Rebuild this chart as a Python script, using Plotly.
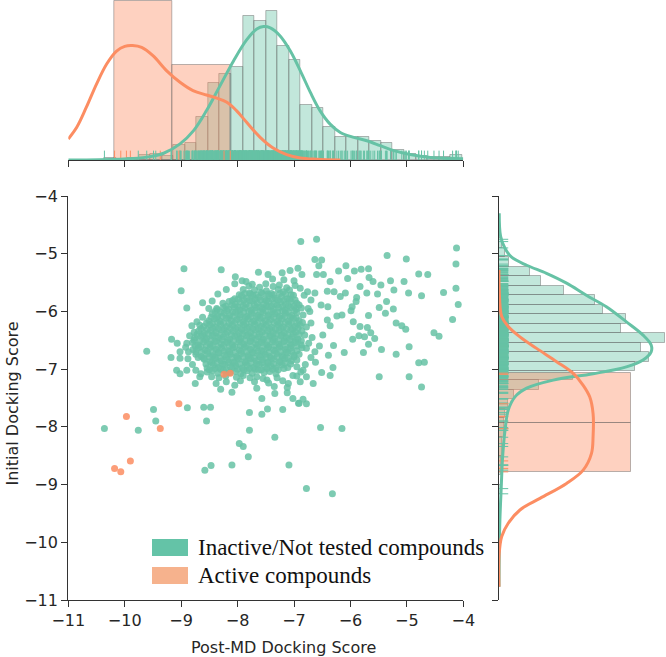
import numpy as np
import plotly.graph_objects as go

# ---------------- data ----------------
inactive_points = [
    # sparse outer points
    (-10.36, -8.03), (-9.76, -8.06), (-9.49, -7.70), (-9.45, -7.90), (-8.89, -7.67), (-8.60, -7.66),
    (-8.48, -7.66), (-8.55, -7.90), (-8.58, -8.75), (-8.47, -8.67), (-8.10, -8.66), (-7.97, -8.29),
    (-7.90, -8.34), (-7.81, -8.52), (-7.79, -8.06), (-7.79, -7.75), (-7.57, -7.78), (-7.47, -7.69),
    (-7.34, -8.18), (-7.20, -7.70), (-7.09, -8.66), (-6.92, -7.59), (-6.78, -7.60), (-6.78, -9.07),
    (-6.53, -8.01), (-6.32, -9.16), (-6.15, -8.03),
    (-9.61, -6.69), (-9.17, -6.48), (-9.18, -6.80), (-9.00, -5.64), (-8.95, -5.26), (-8.90, -5.94),
    (-8.29, -5.28), (-8.04, -5.40), (-9.07, -6.55), (-9.02, -6.70), (-8.87, -6.70), (-9.02, -6.81),
    (-9.08, -7.02), (-9.02, -7.08), (-8.90, -7.02), (-8.75, -7.25), (-8.67, -7.13), (-8.54, -7.05),
    (-8.38, -7.25), (-8.62, -5.85), (-8.51, -5.95), (-8.37, -5.95), (-8.81, -6.25), (-8.77, -6.36),
    (-8.67, -6.24),
    (-6.88, -4.79), (-6.60, -4.75), (-4.12, -4.90), (-4.13, -5.18), (-4.13, -5.60), (-4.09, -5.88),
    (-4.19, -6.14), (-5.35, -5.03), (-5.01, -5.09), (-4.79, -5.35), (-4.63, -5.36), (-4.35, -5.67),
    (-4.74, -5.73), (-4.52, -6.37), (-4.43, -6.43), (-4.79, -6.89), (-4.69, -6.88), (-4.74, -7.31),
    (-4.96, -7.13), (-5.49, -7.13), (-5.19, -6.74), (-4.96, -6.61), (-4.97, -5.68), (-5.23, -5.63),
    (-5.05, -5.48), (-5.29, -5.47), (-5.46, -5.54), (-5.52, -5.70), (-5.36, -5.83), (-5.24, -5.96),
    (-5.38, -6.03), (-5.49, -5.93), (-5.19, -6.20), (-5.09, -6.25), (-5.02, -6.31), (-5.45, -6.66),
    (-5.68, -6.57), (-5.77, -6.71), (-5.57, -6.47), (-5.68, -6.07), (-5.64, -6.37), (-5.70, -6.28),
    (-5.75, -6.44), (-5.83, -6.26), (-5.95, -6.18), (-5.85, -6.42), (-5.96, -6.48), (-5.89, -5.76),
    (-5.90, -5.83), (-5.97, -5.92), (-5.99, -5.99), (-5.83, -5.57), (-5.71, -5.68), (-5.60, -5.48),
    (-5.67, -5.41), (-5.81, -5.27), (-5.93, -5.30), (-5.68, -5.26), (-6.05, -5.43), (-6.08, -5.21),
    (-6.21, -5.30), (-6.09, -5.68), (-6.18, -5.74), (-6.24, -6.08), (-6.15, -6.06), (-6.11, -6.71),
    (-6.30, -6.59), (-6.39, -6.76), (-6.31, -6.97), (-6.36, -7.11), (-6.66, -7.25), (-6.84, -7.52),
    (-6.91, -7.59), (-7.02, -7.51), (-7.12, -7.41), (-7.34, -7.42), (-7.48, -7.19), (-7.57, -7.51),
    (-7.66, -7.33),
    (-7.63, -5.32), (-7.46, -5.36), (-7.21, -5.33), (-7.07, -5.29), (-6.93, -5.25), (-6.86, -5.36),
    (-6.63, -5.10), (-6.51, -5.11), (-6.56, -5.21), (-6.60, -5.36), (-6.48, -5.36), (-6.36, -5.48),
    (-6.29, -5.66), (-6.41, -5.65), (-6.63, -5.68), (-6.76, -5.66), (-6.89, -5.60), (-6.52, -5.89),
    (-6.40, -5.92), (-6.41, -6.15), (-6.36, -6.25), (-6.49, -6.41), (-6.55, -6.60), (-6.63, -6.70),
    (-6.78, -6.64), (-6.70, -6.80), (-6.62, -6.88), (-6.51, -7.06), (-6.84, -7.02), (-6.78, -7.13),
    (-6.95, -6.96), (-7.02, -7.11), (-6.89, -7.22), (-7.10, -7.25), (-7.85, -5.48),
    # ring around the dense core
    (-8.05, -5.52), (-7.92, -5.47), (-7.80, -5.56), (-7.00, -5.47), (-6.98, -5.55), (-7.18, -5.45),
    (-7.38, -5.44), (-8.20, -5.62), (-8.35, -5.70), (-8.45, -5.82), (-8.62, -6.10), (-8.72, -6.18),
    (-8.85, -6.42), (-8.90, -6.55), (-8.92, -6.62), (-8.88, -6.82), (-8.80, -6.92), (-8.74, -7.02),
    (-8.65, -7.08), (-8.20, -7.22), (-8.05, -7.28), (-7.95, -7.20), (-7.70, -7.22), (-7.55, -7.16),
    (-7.45, -7.24), (-7.30, -7.15), (-7.20, -7.20), (-7.35, -7.30), (-7.12, -7.32), (-8.30, -7.35),
    (-8.10, -7.40), (-6.72, -6.00), (-6.70, -6.20), (-6.68, -6.45), (-6.74, -6.55), (-6.80, -6.92),
    (-6.88, -7.05), (-6.95, -7.12), (-6.70, -5.80), (-6.82, -5.72), (-6.75, -5.95),
    # dense core
    (-7.74, -5.53), (-7.61, -5.58), (-7.50, -5.52), (-7.37, -5.57), (-7.26, -5.54), (-7.13, -5.59),
    (-7.90, -5.62), (-7.79, -5.68), (-7.70, -5.63), (-7.58, -5.67), (-7.49, -5.64), (-7.40, -5.69),
    (-7.28, -5.62), (-7.19, -5.66), (-7.08, -5.63),
    (-7.97, -5.71), (-7.87, -5.69), (-7.77, -5.70), (-7.67, -5.71), (-7.56, -5.69), (-7.46, -5.70),
    (-7.36, -5.71), (-7.25, -5.69), (-7.15, -5.70), (-7.05, -5.71),
    (-8.05, -5.78), (-7.93, -5.73), (-7.84, -5.77), (-7.73, -5.72), (-7.63, -5.76), (-7.52, -5.79),
    (-7.44, -5.73), (-7.33, -5.77), (-7.22, -5.74), (-7.12, -5.78), (-7.01, -5.72),
    (-8.09, -5.81), (-7.99, -5.79), (-7.89, -5.80), (-7.79, -5.81), (-7.69, -5.79), (-7.59, -5.80),
    (-7.49, -5.81), (-7.39, -5.79), (-7.28, -5.80), (-7.18, -5.81), (-7.08, -5.79), (-6.98, -5.80),
    (-8.26, -5.86), (-8.15, -5.83), (-8.04, -5.88), (-7.95, -5.84), (-7.85, -5.87), (-7.74, -5.82), (-7.65, -5.86),
    (-7.54, -5.88), (-7.45, -5.83), (-7.35, -5.87), (-7.24, -5.84), (-7.15, -5.88), (-7.05, -5.83), (-6.95, -5.86),
    (-8.21, -5.91), (-8.10, -5.89), (-8.00, -5.92), (-7.90, -5.90), (-7.79, -5.91), (-7.70, -5.89), (-7.60, -5.92),
    (-7.49, -5.90), (-7.40, -5.91), (-7.30, -5.89), (-7.20, -5.92), (-7.10, -5.90), (-7.00, -5.91), (-6.91, -5.89),
    (-8.36, -5.97), (-8.25, -5.93), (-8.16, -5.96), (-8.06, -5.92), (-7.96, -5.97), (-7.87, -5.94), (-7.76, -5.98),
    (-7.67, -5.93), (-7.56, -5.96), (-7.46, -5.92), (-7.37, -5.97), (-7.27, -5.94), (-7.16, -5.98), (-7.06, -5.93),
    (-6.96, -5.96), (-6.87, -5.94),
    (-8.40, -6.00), (-8.30, -6.01), (-8.19, -5.99), (-8.09, -6.01), (-7.99, -5.99), (-7.89, -6.01), (-7.80, -6.00),
    (-7.69, -5.99), (-7.59, -6.01), (-7.50, -5.99), (-7.39, -6.00), (-7.29, -6.01), (-7.20, -5.99), (-7.10, -6.01),
    (-6.99, -5.99),
    (-8.45, -6.04), (-8.35, -6.08), (-8.24, -6.03), (-8.14, -6.07), (-8.04, -6.02), (-7.95, -6.06), (-7.84, -6.09),
    (-7.75, -6.03), (-7.64, -6.07), (-7.55, -6.02), (-7.45, -6.06), (-7.34, -6.04), (-7.25, -6.08), (-7.15, -6.03),
    (-7.04, -6.07), (-6.95, -6.02), (-6.84, -6.06),
    (-8.47, -6.10), (-8.37, -6.11), (-8.27, -6.09), (-8.16, -6.11), (-8.06, -6.09), (-7.96, -6.10), (-7.86, -6.11),
    (-7.76, -6.09), (-7.66, -6.10), (-7.56, -6.11), (-7.46, -6.09), (-7.36, -6.10), (-7.26, -6.11), (-7.16, -6.09),
    (-7.06, -6.10), (-6.96, -6.11),
    (-8.51, -6.16), (-8.41, -6.13), (-8.31, -6.17), (-8.20, -6.12), (-8.11, -6.16), (-8.01, -6.14), (-7.90, -6.18),
    (-7.81, -6.13), (-7.71, -6.17), (-7.60, -6.12), (-7.51, -6.16), (-7.41, -6.14), (-7.30, -6.18), (-7.21, -6.13),
    (-7.10, -6.17), (-7.01, -6.12), (-6.91, -6.16),
    (-8.55, -6.20), (-8.45, -6.21), (-8.35, -6.19), (-8.25, -6.20), (-8.15, -6.21), (-8.05, -6.19), (-7.95, -6.20),
    (-7.85, -6.21), (-7.75, -6.19), (-7.65, -6.20), (-7.55, -6.21), (-7.45, -6.19), (-7.35, -6.20), (-7.25, -6.21),
    (-7.15, -6.19), (-7.05, -6.20), (-6.95, -6.21), (-6.85, -6.19),
    (-8.60, -6.26), (-8.49, -6.23), (-8.39, -6.27), (-8.30, -6.22), (-8.19, -6.26), (-8.09, -6.24), (-7.99, -6.28),
    (-7.89, -6.23), (-7.79, -6.27), (-7.69, -6.22), (-7.58, -6.26), (-7.49, -6.24), (-7.39, -6.28), (-7.28, -6.23),
    (-7.19, -6.27), (-7.09, -6.22), (-6.98, -6.26), (-6.89, -6.24), (-6.78, -6.27),
    (-8.65, -6.30), (-8.54, -6.31), (-8.44, -6.29), (-8.34, -6.30), (-8.24, -6.31), (-8.13, -6.29), (-8.03, -6.30),
    (-7.93, -6.31), (-7.83, -6.29), (-7.73, -6.30), (-7.63, -6.31), (-7.53, -6.29), (-7.43, -6.30), (-7.33, -6.31),
    (-7.23, -6.29), (-7.13, -6.30), (-7.03, -6.31), (-6.93, -6.29),
    (-8.69, -6.34), (-8.59, -6.38), (-8.48, -6.33), (-8.38, -6.37), (-8.28, -6.32), (-8.18, -6.36), (-8.08, -6.34),
    (-7.97, -6.38), (-7.88, -6.33), (-7.77, -6.37), (-7.68, -6.32), (-7.57, -6.36), (-7.47, -6.34), (-7.37, -6.38),
    (-7.27, -6.33), (-7.17, -6.37), (-7.06, -6.32), (-6.97, -6.36), (-6.86, -6.34),
    (-8.72, -6.40), (-8.62, -6.41), (-8.52, -6.39), (-8.42, -6.40), (-8.31, -6.41), (-8.21, -6.39), (-8.11, -6.40),
    (-8.01, -6.41), (-7.91, -6.39), (-7.81, -6.40), (-7.71, -6.41), (-7.61, -6.39), (-7.51, -6.40), (-7.41, -6.41),
    (-7.31, -6.39), (-7.21, -6.40), (-7.11, -6.41), (-7.01, -6.39), (-6.91, -6.40), (-6.81, -6.41),
    (-8.76, -6.46), (-8.65, -6.43), (-8.55, -6.47), (-8.45, -6.42), (-8.34, -6.46), (-8.25, -6.44), (-8.14, -6.48),
    (-8.05, -6.43), (-7.94, -6.47), (-7.84, -6.42), (-7.74, -6.46), (-7.63, -6.44), (-7.54, -6.48), (-7.43, -6.43),
    (-7.34, -6.47), (-7.23, -6.42), (-7.13, -6.46), (-7.03, -6.44), (-6.93, -6.48),
    (-8.77, -6.50), (-8.67, -6.51), (-8.57, -6.49), (-8.47, -6.50), (-8.37, -6.51), (-8.27, -6.49), (-8.17, -6.50),
    (-8.07, -6.51), (-7.97, -6.49), (-7.87, -6.50), (-7.77, -6.51), (-7.67, -6.49), (-7.57, -6.50), (-7.47, -6.51),
    (-7.37, -6.49), (-7.27, -6.50), (-7.17, -6.51), (-7.07, -6.49), (-6.97, -6.50), (-6.87, -6.51),
    (-8.80, -6.54), (-8.70, -6.58), (-8.60, -6.53), (-8.49, -6.57), (-8.40, -6.52), (-8.29, -6.56), (-8.19, -6.54),
    (-8.09, -6.58), (-7.98, -6.53), (-7.89, -6.57), (-7.78, -6.52), (-7.68, -6.56), (-7.58, -6.54), (-7.48, -6.58),
    (-7.38, -6.53), (-7.27, -6.57), (-7.18, -6.52), (-7.07, -6.56), (-6.98, -6.54), (-6.87, -6.58),
    (-8.75, -6.60), (-8.65, -6.61), (-8.55, -6.59), (-8.45, -6.60), (-8.35, -6.61), (-8.25, -6.59), (-8.15, -6.60),
    (-8.05, -6.61), (-7.95, -6.59), (-7.85, -6.60), (-7.75, -6.61), (-7.65, -6.59), (-7.55, -6.60), (-7.45, -6.61),
    (-7.35, -6.59), (-7.25, -6.60), (-7.15, -6.61), (-7.05, -6.59), (-6.95, -6.60),
    (-8.79, -6.66), (-8.69, -6.63), (-8.58, -6.67), (-8.48, -6.62), (-8.38, -6.66), (-8.28, -6.64), (-8.17, -6.68),
    (-8.08, -6.63), (-7.97, -6.67), (-7.87, -6.62), (-7.77, -6.66), (-7.66, -6.64), (-7.57, -6.68), (-7.46, -6.63),
    (-7.36, -6.67), (-7.26, -6.62), (-7.15, -6.66), (-7.06, -6.64), (-6.95, -6.68), (-6.86, -6.63),
    (-8.74, -6.70), (-8.64, -6.71), (-8.54, -6.69), (-8.44, -6.70), (-8.34, -6.71), (-8.24, -6.69), (-8.14, -6.70),
    (-8.04, -6.71), (-7.94, -6.69), (-7.84, -6.70), (-7.74, -6.71), (-7.64, -6.69), (-7.54, -6.70), (-7.44, -6.71),
    (-7.34, -6.69), (-7.24, -6.70), (-7.14, -6.71), (-7.04, -6.69),
    (-8.74, -6.74), (-8.64, -6.78), (-8.53, -6.73), (-8.44, -6.77), (-8.33, -6.72), (-8.23, -6.76), (-8.13, -6.74),
    (-8.02, -6.78), (-7.93, -6.73), (-7.82, -6.77), (-7.72, -6.72), (-7.62, -6.76), (-7.51, -6.74), (-7.42, -6.78),
    (-7.31, -6.73), (-7.21, -6.77), (-7.11, -6.72), (-7.00, -6.76), (-6.91, -6.74),
    (-8.70, -6.80), (-8.60, -6.81), (-8.50, -6.79), (-8.40, -6.80), (-8.30, -6.81), (-8.20, -6.79), (-8.10, -6.80),
    (-8.00, -6.81), (-7.90, -6.79), (-7.80, -6.80), (-7.70, -6.81), (-7.60, -6.79), (-7.50, -6.80), (-7.40, -6.81),
    (-7.30, -6.79), (-7.20, -6.80), (-7.10, -6.81), (-7.00, -6.79),
    (-8.59, -6.83), (-8.49, -6.87), (-8.39, -6.82), (-8.29, -6.86), (-8.18, -6.84), (-8.08, -6.88),
    (-7.98, -6.83), (-7.87, -6.87), (-7.77, -6.82), (-7.67, -6.86), (-7.56, -6.84), (-7.46, -6.88), (-7.36, -6.83),
    (-7.25, -6.87), (-7.16, -6.82), (-7.05, -6.86), (-6.95, -6.84),
    (-8.56, -6.91), (-8.46, -6.89), (-8.36, -6.90), (-8.26, -6.91), (-8.16, -6.89), (-8.06, -6.90),
    (-7.96, -6.91), (-7.86, -6.89), (-7.76, -6.90), (-7.66, -6.91), (-7.56, -6.89), (-7.46, -6.90), (-7.36, -6.91),
    (-7.26, -6.89), (-7.16, -6.90), (-7.06, -6.91),
    (-8.54, -6.98), (-8.43, -6.93), (-8.34, -6.97), (-8.23, -6.92), (-8.13, -6.96), (-8.03, -6.94),
    (-7.92, -6.98), (-7.83, -6.93), (-7.72, -6.97), (-7.62, -6.92), (-7.52, -6.96), (-7.41, -6.94), (-7.32, -6.98),
    (-7.21, -6.93), (-7.11, -6.97),
    (-8.50, -7.01), (-8.40, -6.99), (-8.30, -7.00), (-8.20, -7.01), (-8.10, -6.99), (-8.00, -7.00),
    (-7.89, -7.01), (-7.79, -6.99), (-7.69, -7.00), (-7.58, -7.01), (-7.48, -6.99), (-7.38, -7.00), (-7.28, -7.01),
    (-7.18, -6.99),
    (-8.45, -7.03), (-8.35, -7.07), (-8.25, -7.02), (-8.14, -7.06), (-8.04, -7.04), (-7.94, -7.08),
    (-7.83, -7.03), (-7.74, -7.07), (-7.63, -7.02), (-7.53, -7.06), (-7.43, -7.04), (-7.32, -7.08),
    (-8.46, -7.13), (-8.33, -7.15), (-8.21, -7.12), (-8.02, -7.14), (-7.90, -7.11), (-7.78, -7.15), (-7.66, -7.13),
]
inactive_x = [p[0] for p in inactive_points]
inactive_y = [p[1] for p in inactive_points]

active_x = [-10.18, -10.07, -9.97, -9.90, -9.37, -9.04, -8.24, -8.13]
active_y = [-8.72, -8.78, -7.82, -8.59, -8.03, -7.60, -7.09, -7.07]

# marginal histograms of the inactive set (density)
top_bin_start, top_bin_width = -10.36, 0.2044
top_green_density = [0.008, 0.0, 0.008, 0.019, 0.023, 0.015, 0.059, 0.065, 0.167, 0.297, 0.331,
                     0.359, 0.555, 0.536, 0.572, 0.440, 0.385, 0.213, 0.199, 0.128, 0.090, 0.087,
                     0.087, 0.073, 0.065, 0.038, 0.023, 0.015, 0.012, 0.012, 0.019]
right_bin_top, right_bin_width = -4.735, 0.16407
right_green_density = [0.013, 0.027, 0.044, 0.137, 0.185, 0.288, 0.428, 0.462, 0.563, 0.544, 0.739,
                       0.632, 0.665, 0.603, 0.329, 0.179, 0.068, 0.041, 0.027, 0.022, 0.022, 0.013,
                       0.013, 0.009, 0.009, 0.0, 0.009]

# kernel density curves
kde_top_green_x = [-11.0, -10.44, -9.85, -9.55, -9.31, -9.02, -8.78, -8.55, -8.31, -8.07, -7.84, -7.66,
                   -7.54, -7.42, -7.25, -7.07, -6.89, -6.71, -6.54, -6.36, -6.18, -5.94, -5.71, -5.47,
                   -5.23, -4.94, -4.58, -4.0]
kde_top_green_d = [0.0, 0.001, 0.006, 0.013, 0.026, 0.062, 0.113, 0.190, 0.286, 0.382, 0.462, 0.504,
                   0.513, 0.508, 0.478, 0.421, 0.344, 0.260, 0.190, 0.138, 0.106, 0.087, 0.074, 0.055,
                   0.036, 0.021, 0.010, 0.005]
kde_top_orange_x = [-11.0, -10.85, -10.68, -10.50, -10.32, -10.15, -10.0, -9.86, -9.70, -9.50, -9.26,
                    -9.02, -8.79, -8.55, -8.37, -8.19, -8.02, -7.84, -7.60, -7.37, -7.13, -6.89, -6.60, -6.18]
kde_top_orange_d = [0.081, 0.126, 0.203, 0.292, 0.369, 0.418, 0.437, 0.440, 0.433, 0.401, 0.344,
                    0.299, 0.267, 0.250, 0.238, 0.222, 0.190, 0.145, 0.087, 0.046, 0.021, 0.008, 0.003, 0.0]
kde_right_green_y = [-4.30, -4.70, -4.91, -5.06, -5.20, -5.34, -5.51, -5.72, -5.92, -6.18, -6.41, -6.58,
                     -6.70, -6.84, -6.96, -7.08, -7.19, -7.33, -7.48, -7.71, -8.05, -8.52, -9.04, -9.61,
                     -10.19, -10.77]
kde_right_green_d = [0.001, 0.007, 0.027, 0.056, 0.123, 0.211, 0.300, 0.388, 0.477, 0.566, 0.640, 0.676,
                     0.676, 0.640, 0.566, 0.418, 0.241, 0.123, 0.071, 0.041, 0.027, 0.016, 0.010, 0.004,
                     0.001, 0.0]
kde_right_orange_y = [-5.28, -5.60, -6.09, -6.26, -6.44, -6.64, -6.87, -7.07, -7.28, -7.48, -7.77, -8.17,
                      -8.46, -8.75, -8.98, -9.24, -9.44, -9.67, -9.90, -10.19, -10.77]
kde_right_orange_d = [0.0, 0.001, 0.012, 0.041, 0.093, 0.167, 0.256, 0.329, 0.374, 0.403, 0.418, 0.418,
                      0.411, 0.374, 0.300, 0.182, 0.093, 0.041, 0.012, 0.001, 0.0]

ticks = [-11, -10, -9, -8, -7, -6, -5, -4]
tick_text = ["\u221211", "\u221210", "\u22129", "\u22128", "\u22127", "\u22126", "\u22125", "\u22124"]

# ---------------- styling ----------------
GREEN = "#66c2a5"
ORANGE = "#fc8d62"
AXC = "#333333"
W, H = 666, 657

def px(x):
    return x / W

def py(y):
    return 1 - y / H

fig = go.Figure()

# ---- top marginal ----
top_edges = top_bin_start + top_bin_width * np.arange(len(top_green_density) + 1)
fig.add_trace(go.Bar(
    x=(top_edges[:-1] + top_edges[1:]) / 2, y=top_green_density, width=top_bin_width,
    marker=dict(color="rgba(102,194,165,0.4)", line=dict(color="rgba(100,100,100,0.45)", width=1)),
    xaxis="x2", yaxis="y2", showlegend=False, hoverinfo="skip"))
o_counts, o_edges = np.histogram(active_x, bins=2, density=True)
fig.add_trace(go.Bar(
    x=(o_edges[:-1] + o_edges[1:]) / 2, y=o_counts, width=o_edges[1] - o_edges[0],
    marker=dict(color="rgba(252,141,98,0.4)", line=dict(color="rgba(100,100,100,0.45)", width=1)),
    xaxis="x2", yaxis="y2", showlegend=False, hoverinfo="skip"))

def rug_h(vals, h):
    xs, ys = [], []
    for v in vals:
        xs += [v, v, None]
        ys += [0, h, None]
    return xs, ys

def rug_v(vals, w):
    xs, ys = [], []
    for v in vals:
        xs += [0, w, None]
        ys += [v, v, None]
    return xs, ys

rx, ry = rug_h(inactive_x, 0.036)
fig.add_trace(go.Scatter(x=rx, y=ry, mode="lines", line=dict(color=GREEN, width=1),
                         xaxis="x2", yaxis="y2", showlegend=False, hoverinfo="skip"))
rx, ry = rug_h(active_x, 0.036)
fig.add_trace(go.Scatter(x=rx, y=ry, mode="lines", line=dict(color=ORANGE, width=1),
                         xaxis="x2", yaxis="y2", showlegend=False, hoverinfo="skip"))
fig.add_trace(go.Scatter(x=kde_top_green_x, y=kde_top_green_d, mode="lines",
                         line=dict(color=GREEN, width=3, shape="spline"),
                         xaxis="x2", yaxis="y2", showlegend=False, hoverinfo="skip"))
fig.add_trace(go.Scatter(x=kde_top_orange_x, y=kde_top_orange_d, mode="lines",
                         line=dict(color=ORANGE, width=3, shape="spline"),
                         xaxis="x2", yaxis="y2", showlegend=False, hoverinfo="skip"))

# ---- right marginal ----
right_edges = right_bin_top - right_bin_width * np.arange(len(right_green_density) + 1)
fig.add_trace(go.Bar(
    y=(right_edges[:-1] + right_edges[1:]) / 2, x=right_green_density, width=right_bin_width,
    orientation="h",
    marker=dict(color="rgba(102,194,165,0.4)", line=dict(color="rgba(100,100,100,0.45)", width=1)),
    xaxis="x3", yaxis="y3", showlegend=False, hoverinfo="skip"))
oy_counts, oy_edges = np.histogram(active_y, bins=2, density=True)
fig.add_trace(go.Bar(
    y=(oy_edges[:-1] + oy_edges[1:]) / 2, x=oy_counts, width=oy_edges[1] - oy_edges[0],
    orientation="h",
    marker=dict(color="rgba(252,141,98,0.4)", line=dict(color="rgba(100,100,100,0.45)", width=1)),
    xaxis="x3", yaxis="y3", showlegend=False, hoverinfo="skip"))
rx, ry = rug_v(inactive_y, 0.041)
fig.add_trace(go.Scatter(x=rx, y=ry, mode="lines", line=dict(color=GREEN, width=1),
                         xaxis="x3", yaxis="y3", showlegend=False, hoverinfo="skip"))
rx, ry = rug_v(active_y, 0.041)
fig.add_trace(go.Scatter(x=rx, y=ry, mode="lines", line=dict(color=ORANGE, width=1),
                         xaxis="x3", yaxis="y3", showlegend=False, hoverinfo="skip"))
fig.add_trace(go.Scatter(x=kde_right_green_d, y=kde_right_green_y, mode="lines",
                         line=dict(color=GREEN, width=3, shape="spline"),
                         xaxis="x3", yaxis="y3", showlegend=False, hoverinfo="skip"))
fig.add_trace(go.Scatter(x=kde_right_orange_d, y=kde_right_orange_y, mode="lines",
                         line=dict(color=ORANGE, width=3, shape="spline"),
                         xaxis="x3", yaxis="y3", showlegend=False, hoverinfo="skip"))

# ---- main scatter ----
fig.add_trace(go.Scatter(x=inactive_x, y=inactive_y, mode="markers",
                         marker=dict(color=GREEN, size=7, opacity=0.85, line=dict(width=0)),
                         showlegend=False))
fig.add_trace(go.Scatter(x=active_x, y=active_y, mode="markers",
                         marker=dict(color=ORANGE, size=7, opacity=0.85, line=dict(width=0)),
                         showlegend=False))

tickfont = dict(family="DejaVu Sans", size=16, color="#262626")
xdom = [px(68.3), px(463.3)]
ydom = [py(600), py(196)]
common = dict(showgrid=False, zeroline=False, showline=True, linecolor=AXC, linewidth=1.3,
              ticks="outside", ticklen=6, tickwidth=1.3, tickcolor=AXC, automargin=False)

fig.update_layout(
    width=W, height=H,
    margin=dict(l=0, r=0, t=0, b=0, pad=0, autoexpand=False),
    paper_bgcolor="white", plot_bgcolor="rgba(0,0,0,0)",
    barmode="overlay", bargap=0,
    showlegend=False,
    xaxis=dict(domain=xdom, range=[-11, -4], tickvals=ticks, ticktext=tick_text,
               tickfont=tickfont, anchor="y", **common),
    yaxis=dict(domain=ydom, range=[-11, -4], tickvals=ticks, ticktext=tick_text,
               tickfont=tickfont, anchor="x", **common),
    xaxis2=dict(domain=xdom, range=[-11, -4], tickvals=ticks, showticklabels=False,
                anchor="y2", **common),
    yaxis2=dict(domain=[py(160), 1.0], range=[0, 160 / 260], visible=False, anchor="x2",
                automargin=False),
    xaxis3=dict(domain=[px(499), 1.0], range=[0, 0.742], visible=False, anchor="y3",
                automargin=False),
    yaxis3=dict(domain=ydom, range=[-11, -4], tickvals=ticks, showticklabels=False,
                anchor="x3", **common),
)

# axis titles
fig.add_annotation(text="Post-MD Docking Score", x=px(283.5), y=py(647), xref="paper", yref="paper",
                   xanchor="center", yanchor="middle", showarrow=False,
                   font=dict(family="DejaVu Sans", size=16, color="#262626"))
fig.add_annotation(text="Initial Docking Score", x=px(12), y=py(403.5), xref="paper", yref="paper",
                   xanchor="center", yanchor="middle", showarrow=False, textangle=-90,
                   font=dict(family="DejaVu Sans", size=16, color="#262626"))

# legend (patches + labels)
legend_items = [("Inactive/Not tested compounds", "#64c3a7", 539, 556),
                ("Active compounds", "#f6b28d", 567, 584)]
for label, col, y0, y1 in legend_items:
    fig.add_shape(type="rect", xref="paper", yref="paper", x0=px(152), x1=px(188),
                  y0=py(y1), y1=py(y0), fillcolor=col, line=dict(width=0))
    fig.add_annotation(text=label, x=px(196), y=py((y0 + y1) / 2), xref="paper", yref="paper",
                       xanchor="left", yanchor="middle", showarrow=False,
                       font=dict(family="Liberation Serif", size=23, color="#111111"))

fig.write_html("out.html", config={"displayModeBar": False},
               post_script="document.body.style.margin='0';document.body.style.padding='0';")
